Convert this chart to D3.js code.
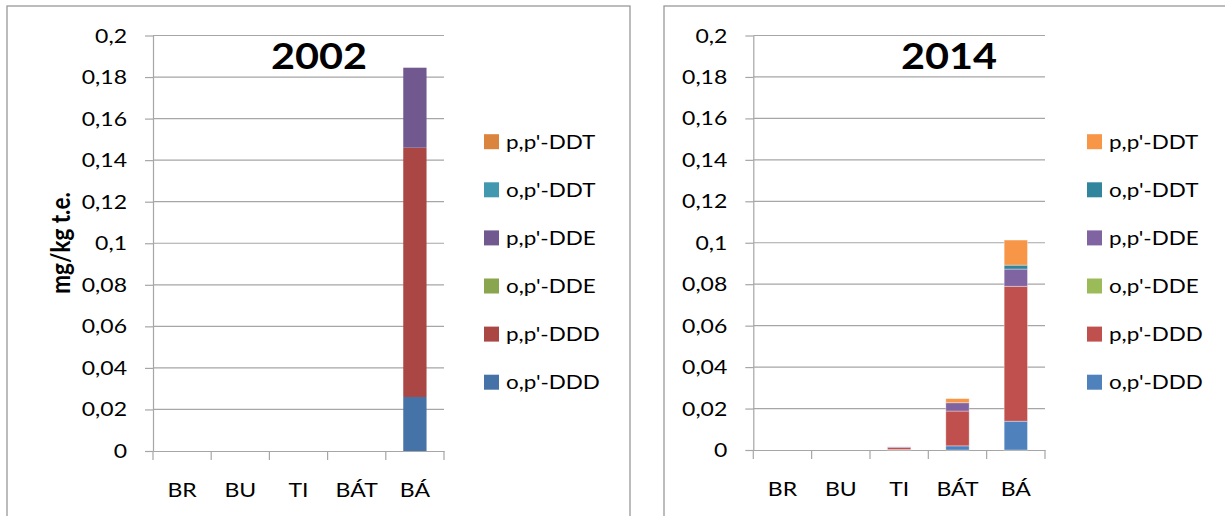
<!DOCTYPE html>
<html>
<head>
<meta charset="utf-8">
<script src="https://cdn.jsdelivr.net/npm/d3@7"></script>
<style>
  body { margin: 0; background: #fff; }
  svg { display: block; font-family: Lato, "Open Sans", sans-serif; }
</style>
</head>
<body>
<svg id="chart" width="1225" height="516"></svg>
<script>
const categories = ["BR", "BU", "TI", "BÁT", "BÁ"];
const seriesNames = ["o,p'-DDD", "p,p'-DDD", "o,p'-DDE", "p,p'-DDE", "o,p'-DDT", "p,p'-DDT"];
const yTicks = [0, 0.02, 0.04, 0.06, 0.08, 0.1, 0.12, 0.14, 0.16, 0.18, 0.2];

// values per series, one entry per category
const values2002 = [
  [0, 0, 0, 0, 0.026],
  [0, 0, 0, 0, 0.120],
  [0, 0, 0, 0, 0],
  [0, 0, 0, 0, 0.0385],
  [0, 0, 0, 0, 0],
  [0, 0, 0, 0, 0]
];
const values2014 = [
  [0, 0, 0.0002, 0.002, 0.0139],
  [0, 0, 0.0010, 0.0168, 0.0651],
  [0, 0, 0, 0, 0],
  [0, 0, 0.0003, 0.004, 0.0083],
  [0, 0, 0, 0, 0.0019],
  [0, 0, 0, 0.002, 0.0121]
];
const colors2002 = ["#4572A7", "#AA4643", "#89A54E", "#71588F", "#4198AF", "#DB843D"];
const colors2014 = ["#4F81BD", "#C0504D", "#9BBB59", "#8064A2", "#31859C", "#F79646"];

const SX = 1.15; // source picture is a little stretched sideways
const fmt = d3.formatLocale({decimal: ",", thousands: ".", grouping: [3], currency: ["", ""]}).format("~g");
const svg = d3.select("#chart");

function stretchedText(parent, x, y, str, size, anchor, weight) {
  parent.append("g")
    .attr("transform", `translate(${x},${y}) scale(${SX},1)`)
    .append("text")
    .attr("text-anchor", anchor)
    .attr("font-size", size)
    .attr("font-weight", weight || "normal")
    .attr("fill", "#000")
    .text(str);
}

function panel(opts) {
  const frame = opts.frame;
  svg.append("rect")
    .attr("x", frame[0]).attr("y", frame[1])
    .attr("width", frame[2]).attr("height", frame[3])
    .attr("fill", "#fff").attr("stroke", "#999").attr("stroke-width", 1.3);

  const x = d3.scaleBand().domain(categories).range([opts.left, opts.right]);
  const y = d3.scaleLinear().domain([0, 0.2]).range([opts.zero, opts.top]);
  const g = svg.append("g");

  // gridlines
  g.selectAll(".grid").data(yTicks.slice(1)).enter().append("line")
    .attr("x1", opts.left).attr("x2", opts.right)
    .attr("y1", d => y(d)).attr("y2", d => y(d))
    .attr("stroke", "#a6a6a6").attr("stroke-width", 1.2);

  // y axis
  const ya = g.append("g").attr("transform", `translate(${opts.left},0)`)
    .call(d3.axisLeft(y).tickValues(yTicks).tickSize(8).tickSizeOuter(0).tickFormat(""));
  ya.selectAll("path, line").attr("stroke", "#a6a6a6").attr("stroke-width", 1.2);
  yTicks.forEach(t => stretchedText(g, opts.left - 26, y(t) + 7, fmt(t), 20, "end"));

  // x axis with ticks at category boundaries
  const xa = g.append("g").attr("transform", `translate(0,${opts.zero})`)
    .call(d3.axisBottom(x).tickSize(0).tickSizeOuter(0).tickFormat(""));
  xa.selectAll("path").attr("stroke", "#a6a6a6").attr("stroke-width", 1.2);
  const bounds = categories.map(c => x(c)).concat([opts.right]);
  g.selectAll(".xt").data(bounds).enter().append("line")
    .attr("x1", d => d).attr("x2", d => d)
    .attr("y1", opts.zero).attr("y2", opts.zero + 9)
    .attr("stroke", "#a6a6a6").attr("stroke-width", 1.2);
  categories.forEach(c => stretchedText(g, x(c) + x.bandwidth() / 2, opts.zero + 46, c, 20, "middle"));

  // stacked bars
  const rows = categories.map((c, i) => {
    const r = {cat: c};
    seriesNames.forEach((s, k) => { r[s] = opts.values[k][i]; });
    return r;
  });
  const stacked = d3.stack().keys(seriesNames)(rows);
  const bw = x.bandwidth() / 2.5;
  g.selectAll(".layer").data(stacked).enter().append("g")
    .attr("fill", (d, k) => opts.colors[k])
    .selectAll("rect").data(d => d.filter(p => p[1] - p[0] > 0)).enter().append("rect")
    .attr("x", d => x(d.data.cat) + (x.bandwidth() - bw) / 2)
    .attr("width", bw)
    .attr("y", d => y(d[1]))
    .attr("height", d => y(d[0]) - y(d[1]))
    .attr("stroke", opts.edge)
    .attr("stroke-width", 0.8);

  // title
  stretchedText(svg, opts.titleX, 69, opts.title, 36, "middle", "bold");

  // legend, top entry is the last series
  const legendNames = seriesNames.slice().reverse();
  const legendColors = opts.colors.slice().reverse();
  legendNames.forEach((s, i) => {
    const cy = 141.7 + i * 48.1;
    svg.append("rect")
      .attr("x", opts.legendX).attr("y", cy - 7.5)
      .attr("width", 15).attr("height", 15)
      .attr("fill", legendColors[i]);
    stretchedText(svg, opts.legendX + 22, cy + 7, s, 19.5, "start");
  });
}

panel({
  frame: [7, 6, 623, 540], left: 153, right: 444, zero: 451, top: 35.5,
  values: values2002, colors: colors2002, title: "2002", titleX: 319,
  legendX: 484, edge: "none"
});
panel({
  frame: [664, 6, 600, 540], left: 753.3, right: 1045, zero: 450, top: 35.5,
  values: values2014, colors: colors2014, title: "2014", titleX: 949,
  legendX: 1087, edge: "rgba(255,255,255,0.45)"
});

// y axis title of the first panel
svg.append("g")
  .attr("transform", "translate(70,243) rotate(-90) scale(1," + SX + ")")
  .append("text")
  .attr("text-anchor", "middle")
  .attr("font-size", 22.5)
  .attr("font-weight", "bold")
  .text("mg/kg t.e.");
</script>
</body>
</html>
